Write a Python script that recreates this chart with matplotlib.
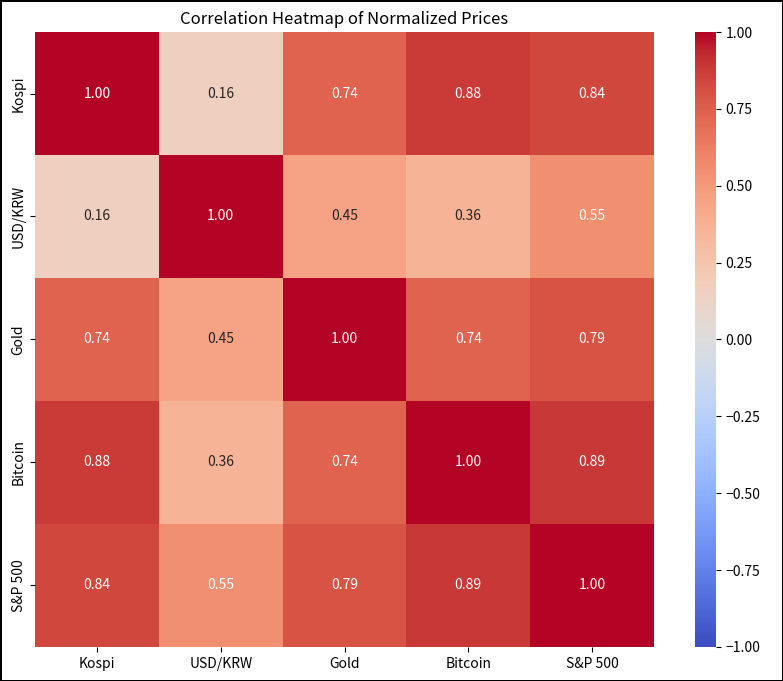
import numpy as np
import pandas as pd
import matplotlib
matplotlib.use('Agg')
import matplotlib.pyplot as plt
import seaborn as sns

plt.rcParams['font.family'] = ['Noto Sans CJK KR', 'DejaVu Sans']

assets = ['Kospi', 'USD/KRW', 'Gold', 'Bitcoin', 'S&P 500']
corr_values = [
    [1.00, 0.16, 0.74, 0.88, 0.84],
    [0.16, 1.00, 0.45, 0.36, 0.55],
    [0.74, 0.45, 1.00, 0.74, 0.79],
    [0.88, 0.36, 0.74, 1.00, 0.89],
    [0.84, 0.55, 0.79, 0.89, 1.00],
]
corr = pd.DataFrame(corr_values, index=assets, columns=assets)

fig = plt.figure(figsize=(7.83, 6.81), dpi=100, edgecolor='black', linewidth=1)
ax = fig.add_axes([0.045, 0.05, 0.79, 0.903])
cax = fig.add_axes([0.888, 0.05, 0.026, 0.903])

sns.heatmap(corr, annot=True, fmt='.2f', cmap='coolwarm', vmin=-1, vmax=1,
            ax=ax, cbar_ax=cax)
ax.set_title('Correlation Heatmap of Normalized Prices', fontsize=12)

fig.savefig('out.png', dpi=100, edgecolor=fig.get_edgecolor())
